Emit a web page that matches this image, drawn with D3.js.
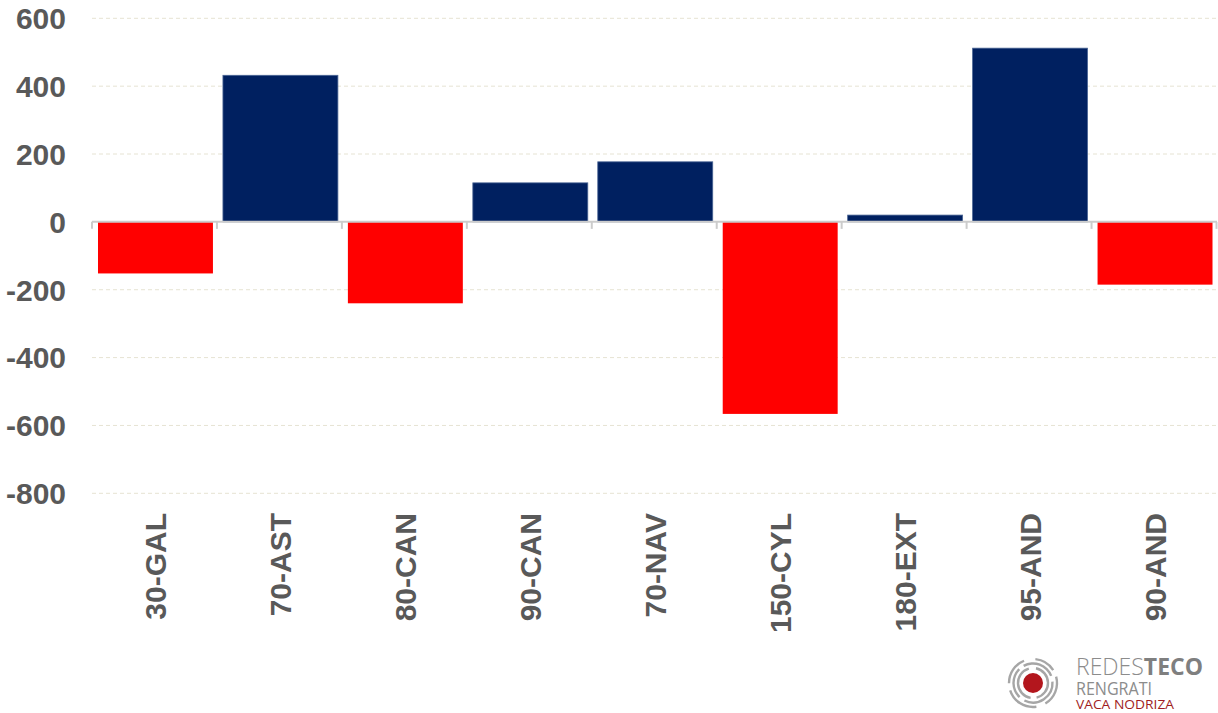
<!DOCTYPE html>
<html><head><meta charset="utf-8">
<script src="https://cdn.jsdelivr.net/npm/d3@7"></script>
<style>body{margin:0;background:#fff;}svg{display:block;}</style>
</head><body><svg id="c" width="1218" height="713"></svg>
<script>
const categories = ["30-GAL","70-AST","80-CAN","90-CAN","70-NAV","150-CYL","180-EXT","95-AND","90-AND"];
const values = [-152, 432, -240, 115, 177, -566, 20, 512, -185];
const yTicks = [600, 400, 200, 0, -200, -400, -600, -800];

const svg = d3.select("#c");
const x = d3.scaleBand().domain(categories).range([93, 1217.5]).paddingInner(0.08).paddingOuter(0.04);
const y = d3.scaleLinear().domain([-800, 600]).range([493.3, 18.3]);

// gridlines
svg.append("g").selectAll("line").data(yTicks.filter(d => d !== 0)).join("line")
  .attr("x1", 92).attr("x2", 1216)
  .attr("y1", d => y(d)).attr("y2", d => y(d))
  .attr("stroke", "#e6e3d3").attr("stroke-width", 1).attr("stroke-dasharray", "4,3");

const font = "Liberation Sans, Arial, sans-serif";
// y labels
svg.append("g").selectAll("text").data(yTicks).join("text")
  .attr("x", 66).attr("y", d => y(d)).attr("dy", "0.36em")
  .attr("text-anchor", "end")
  .attr("font-family", font).attr("font-weight", "bold")
  .attr("font-size", 30).attr("fill", "#595959")
  .text(d => d);

// bars
svg.append("g").selectAll("rect").data(values).join("rect")
  .attr("x", (d, i) => x(categories[i]))
  .attr("width", x.bandwidth())
  .attr("y", d => d >= 0 ? y(d) : y(0))
  .attr("height", d => Math.abs(y(d) - y(0)))
  .attr("fill", d => d >= 0 ? "#002060" : "#ff0000")
  .attr("stroke", d => d >= 0 ? "#4a6594" : "none")
  .attr("stroke-width", 0.8);

// axis line and ticks
const step = x.step();
const tickXs = d3.range(categories.length + 1).map(i => 92 + i * step);
svg.append("line").attr("x1", 92).attr("x2", 1217).attr("y1", y(0)).attr("y2", y(0))
  .attr("stroke", "#cccccc").attr("stroke-width", 2);
svg.append("g").selectAll("line").data(tickXs).join("line")
  .attr("x1", d => d).attr("x2", d => d).attr("y1", y(0)).attr("y2", y(0) + 7)
  .attr("stroke", "#cccccc").attr("stroke-width", 2);

// category labels
svg.append("g").selectAll("text").data(categories).join("text")
  .attr("transform", d => `translate(${x(d) + x.bandwidth() / 2},513) rotate(-90)`)
  .attr("dy", "0.36em")
  .attr("text-anchor", "end")
  .attr("font-family", font).attr("font-weight", "bold")
  .attr("font-size", 30).attr("fill", "#595959")
  .text(d => d);

// logo
const lg = svg.append("g");
const cx = 1033, cy = 683;
lg.append("circle").attr("cx", cx).attr("cy", cy).attr("r", 10).attr("fill", "#b3161d");
const arc = d3.arc();
[[15, 2.4], [19.5, 2.4], [24, 2.4]].forEach(([r, w], k) => {
  const segs = k === 0 ? [[0.2, 2.9], [3.3, 6.0]] : k === 1 ? [[-0.5, 1.2], [1.5, 3.6], [3.9, 5.5]] : [[0.1, 1.0], [1.3, 2.6], [3.0, 4.4], [4.7, 5.9]];
  segs.forEach(([a0, a1]) => {
    lg.append("path").attr("transform", `translate(${cx},${cy})`)
      .attr("d", arc({innerRadius: r - w / 2, outerRadius: r + w / 2, startAngle: a0, endAngle: a1}))
      .attr("fill", "#a6a6a6");
  });
});
const lf = "Open Sans, Liberation Sans, sans-serif";
const t1 = lg.append("text").attr("x", 1076).attr("y", 675)
  .attr("font-family", lf).attr("font-size", 23).attr("fill", "#8c8c8c")
  .attr("textLength", 127).attr("lengthAdjust", "spacingAndGlyphs");
t1.append("tspan").attr("font-weight", 300).text("REDES");
t1.append("tspan").attr("font-weight", 700).attr("fill", "#7f7f7f").text("TECO");
lg.append("text").attr("x", 1076).attr("y", 694.5)
  .attr("font-family", lf).attr("font-size", 17.5).attr("fill", "#8c8c8c")
  .attr("textLength", 76).attr("lengthAdjust", "spacingAndGlyphs").text("RENGRATI");
lg.append("text").attr("x", 1076).attr("y", 708.5)
  .attr("font-family", lf).attr("font-size", 12).attr("fill", "#a01c22")
  .attr("textLength", 98).attr("lengthAdjust", "spacingAndGlyphs").text("VACA NODRIZA");
</script></body></html>
